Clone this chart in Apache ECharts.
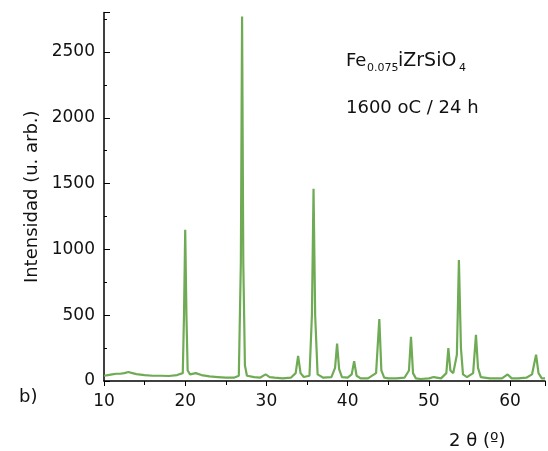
<!DOCTYPE html>
<html>
<head>
<meta charset="utf-8">
<script src="https://cdn.jsdelivr.net/npm/echarts@6/dist/echarts.min.js"></script>
<style>html,body{margin:0;padding:0;background:#fff}#c{width:548px;height:451px}</style>
</head>
<body>
<div id="c"></div>
<script>
// 2θ (degrees) and intensity (arb. units)
const twoTheta = [10, 10.5, 11, 11.5, 12, 12.5, 13, 13.5, 14, 15, 16, 17, 18, 19, 19.7, 19.85, 20.0, 20.15, 20.3, 20.6, 21.3, 22, 23, 24, 25, 26, 26.6, 26.85, 27.0, 27.15, 27.35, 27.6, 28.5, 29.2, 29.9, 30.4, 31, 32, 33, 33.6, 33.9, 34.2, 34.6, 35.3, 35.6, 35.8, 36.0, 36.3, 37, 38, 38.45, 38.7, 38.95, 39.3, 40, 40.5, 40.8, 41.1, 41.6, 42.5, 43.5, 43.9, 44.15, 44.5, 45, 46, 47, 47.55, 47.8, 48.05, 48.4, 49, 50, 50.6, 51.5, 52.15, 52.4, 52.65, 53.0, 53.45, 53.7, 53.95, 54.2, 54.7, 55.45, 55.8, 56.05, 56.4, 57.5, 59, 59.7, 59.9, 60.2, 61, 62, 62.7, 63.2, 63.5, 63.9, 64.3];
const intensity = [40, 45, 50, 55, 55, 60, 68, 60, 52, 45, 40, 40, 38, 45, 60, 500, 1150, 500, 80, 50, 60, 45, 35, 30, 25, 25, 40, 900, 2770, 900, 120, 40, 30, 25, 50, 30, 25, 20, 25, 60, 190, 60, 30, 40, 500, 1460, 500, 50, 25, 30, 100, 285, 90, 30, 25, 50, 150, 40, 20, 20, 60, 470, 80, 25, 20, 20, 25, 80, 335, 60, 20, 15, 20, 30, 20, 60, 250, 80, 60, 200, 920, 250, 50, 30, 60, 350, 100, 30, 20, 20, 50, 40, 20, 20, 25, 50, 200, 60, 20, 20];
const xTicks = [10, 20, 30, 40, 50, 60];
const yTicks = [0, 500, 1000, 1500, 2000, 2500];

const data = twoTheta.map((x, i) => [x, intensity[i]]);
const FONT = 'DejaVu Sans';
const chart = echarts.init(document.getElementById('c'), null, {renderer: 'canvas'});
chart.setOption({
  animation: false,
  backgroundColor: '#ffffff',
  grid: {left: 104, right: 0, top: 12.5, bottom: 70},
  xAxis: {
    type: 'value', min: 10, max: 64.3, interval: 10,
    axisLine: {lineStyle: {color: '#000', width: 1.5}},
    axisTick: {show: true, inside: false, length: 5, lineStyle: {color: '#000', width: 1}},
    minorTick: {show: true, splitNumber: 2, length: 4, lineStyle: {color: '#000', width: 1}},
    axisLabel: {color: '#111', fontFamily: FONT, fontSize: 17, margin: 12,
      formatter: v => xTicks.includes(v) ? String(v) : ''},
    splitLine: {show: false}
  },
  yAxis: {
    type: 'value', min: 0, max: 2800, interval: 500,
    name: 'Intensidad (u. arb.)', nameLocation: 'middle', nameGap: 62,
    nameTextStyle: {color: '#111', fontFamily: FONT, fontSize: 18},
    axisLine: {show: true, lineStyle: {color: '#000', width: 1.5}},
    axisTick: {show: true, inside: true, length: 6, lineStyle: {color: '#000', width: 1}},
    minorTick: {show: true, splitNumber: 2, length: 3, lineStyle: {color: '#000', width: 1}},
    axisLabel: {color: '#111', fontFamily: FONT, fontSize: 17, margin: 9,
      formatter: v => yTicks.includes(v) ? String(v) : ''},
    splitLine: {show: false}
  },
  series: [{
    type: 'line', data: data, showSymbol: false, smooth: false,
    lineStyle: {color: '#6fab55', width: 2.2},
    z: 1
  }],
  graphic: [
    {type: 'text', left: 346, top: 52, style: {text: 'Fe', font: '18px "DejaVu Sans"', fill: '#111'}},
    {type: 'text', left: 367, top: 63, style: {text: '0.075', font: '11px "DejaVu Sans"', fill: '#111'}},
    {type: 'text', left: 398, top: 52, style: {text: 'iZrSiO', font: '19px "DejaVu Sans"', fill: '#111'}},
    {type: 'text', left: 459, top: 63, style: {text: '4', font: '11px "DejaVu Sans"', fill: '#111'}},
    {type: 'text', left: 346, top: 99, style: {text: '1600 oC / 24 h', font: '18px "DejaVu Sans"', fill: '#111'}},
    {type: 'text', left: 19, top: 388, style: {text: 'b)', font: '18px "DejaVu Sans"', fill: '#111'}},
    {type: 'text', left: 449, top: 432, style: {text: '2 θ (º)', font: '18px "DejaVu Sans"', fill: '#111'}}
  ]
});
</script>
</body>
</html>
